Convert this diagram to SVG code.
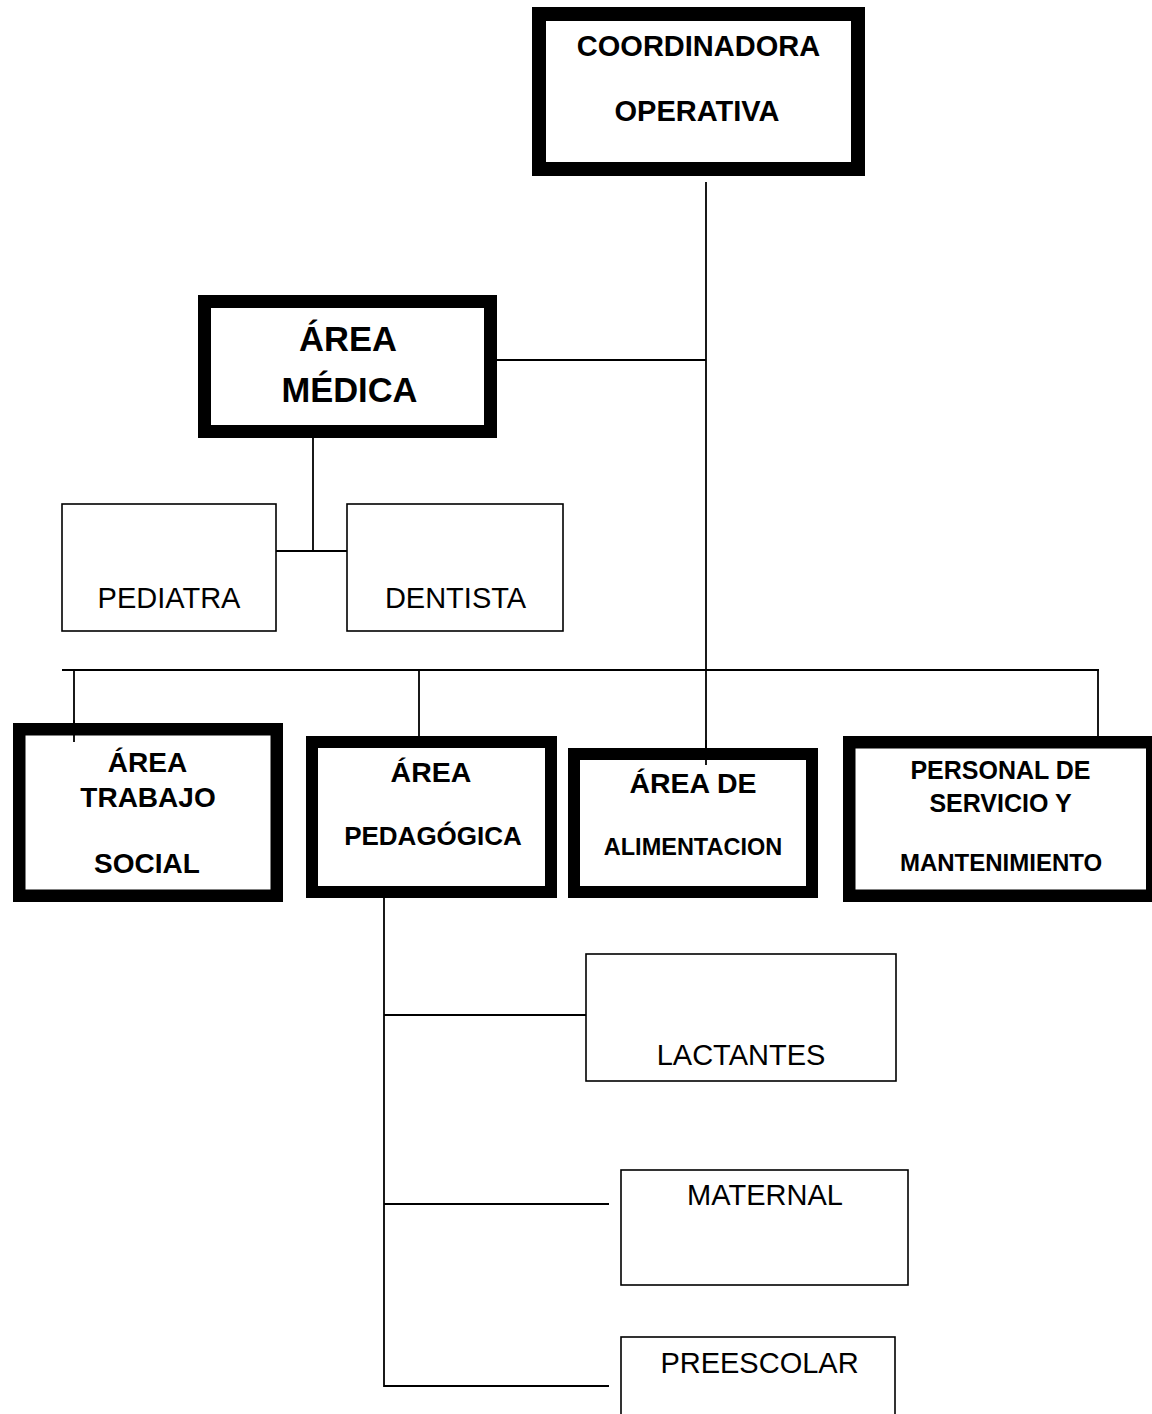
<svg xmlns="http://www.w3.org/2000/svg" width="1152" height="1414" viewBox="0 0 1152 1414">
  <style>
    .bold-box { fill: #ffffff; stroke: #000000; }
    .thin-box { fill: #ffffff; stroke: #000000; stroke-width: 1.6; }
    .link { fill: none; stroke: #000000; stroke-width: 1.8; }
    .hb { font-family: "Liberation Sans", Arial, sans-serif; font-weight: bold; text-anchor: middle; fill: #000000; }
    .hr { font-family: "Liberation Sans", Arial, sans-serif; font-size: 29px; text-anchor: middle; fill: #000000; }
  </style>
  <rect x="0" y="0" width="1152" height="1414" fill="#ffffff"/>

  <!-- connectors -->
  <g id="connectors">
    <line class="link" x1="706" y1="182" x2="706" y2="765"/>
    <line class="link" x1="497" y1="360" x2="706" y2="360"/>
    <line class="link" x1="313" y1="438" x2="313" y2="551"/>
    <line class="link" x1="276" y1="551" x2="347" y2="551"/>
    <line class="link" x1="62" y1="670" x2="1099" y2="670"/>
    <line class="link" x1="74" y1="670" x2="74" y2="742"/>
    <line class="link" x1="419" y1="670" x2="419" y2="737"/>
    <line class="link" x1="1098" y1="669" x2="1098" y2="737"/>
    <line class="link" x1="384" y1="898" x2="384" y2="1387"/>
    <line class="link" x1="384" y1="1015" x2="586" y2="1015"/>
    <line class="link" x1="384" y1="1204" x2="609" y2="1204"/>
    <line class="link" x1="384" y1="1386" x2="609" y2="1386"/>
  </g>

  <g id="coordinadora">
    <rect class="bold-box" x="539" y="14" width="319" height="155" stroke-width="14"/>
    <text class="hb" x="698.5" y="56" font-size="29">COORDINADORA</text>
    <text class="hb" x="697" y="121" font-size="29">OPERATIVA</text>
  </g>

  <g id="area-medica">
    <rect class="bold-box" x="204.5" y="301.5" width="286" height="130" stroke-width="13"/>
    <text class="hb" x="348" y="351" font-size="34.5">ÁREA</text>
    <text class="hb" x="349.5" y="402" font-size="34.5">MÉDICA</text>
  </g>

  <g id="pediatra">
    <rect class="thin-box" x="62" y="504" width="214" height="127"/>
    <text class="hr" x="169" y="608">PEDIATRA</text>
  </g>

  <g id="dentista">
    <rect class="thin-box" x="347" y="504" width="216" height="127"/>
    <text class="hr" x="455.5" y="608">DENTISTA</text>
  </g>

  <!-- bottom row drops are drawn over the box tops -->
  <g id="area-trabajo-social">
    <rect class="bold-box" x="19.25" y="729.25" width="257.5" height="166.5" stroke-width="12.5"/>
    <text class="hb" x="147.5" y="772" font-size="28">ÁREA</text>
    <text class="hb" x="148" y="807" font-size="28">TRABAJO</text>
    <text class="hb" x="147" y="873" font-size="28">SOCIAL</text>
  </g>

  <g id="area-pedagogica">
    <rect class="bold-box" x="312" y="742" width="239" height="150" stroke-width="12"/>
    <text class="hb" x="431" y="782" font-size="28.5">ÁREA</text>
    <text class="hb" x="433" y="845" font-size="26">PEDAGÓGICA</text>
  </g>

  <g id="area-alimentacion">
    <rect class="bold-box" x="574" y="754" width="238" height="138" stroke-width="12"/>
    <text class="hb" x="693" y="793" font-size="28.5">ÁREA DE</text>
    <text class="hb" x="693" y="855" font-size="23.5">ALIMENTACION</text>
  </g>

  <g id="personal-servicio">
    <rect class="bold-box" x="849.25" y="742.25" width="303" height="153.5" stroke-width="12.5"/>
    <text class="hb" x="1000.5" y="779" font-size="25">PERSONAL DE</text>
    <text class="hb" x="1000.5" y="812" font-size="25">SERVICIO Y</text>
    <text class="hb" x="1001" y="871" font-size="24">MANTENIMIENTO</text>
  </g>

  <!-- redraw drops that reach into the bottom row boxes -->
  <g id="connectors-over">
    <line class="link" x1="74" y1="720" x2="74" y2="742"/>
    <line class="link" x1="706" y1="740" x2="706" y2="765"/>
  </g>

  <g id="lactantes">
    <rect class="thin-box" x="586" y="954" width="310" height="127"/>
    <text class="hr" x="741" y="1065">LACTANTES</text>
  </g>

  <g id="maternal">
    <rect class="thin-box" x="621" y="1170" width="287" height="115"/>
    <text class="hr" x="765" y="1205">MATERNAL</text>
  </g>

  <g id="preescolar">
    <rect class="thin-box" x="621" y="1337" width="274" height="90"/>
    <text class="hr" x="759.5" y="1373">PREESCOLAR</text>
  </g>
</svg>
